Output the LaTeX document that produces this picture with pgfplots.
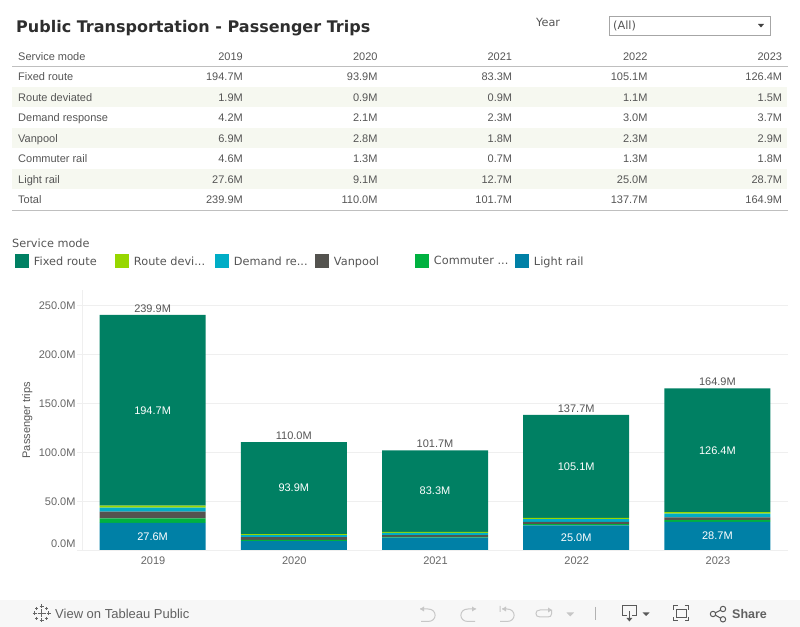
\documentclass[border=0pt]{standalone}
\usepackage{fontspec}
\usepackage{pgfplots}
\usepackage{pgfplotstable}
\pgfplotsset{compat=1.18}
\setmainfont{Liberation Sans}
\newfontfamily\dejavu{DejaVu Sans}
\definecolor{cFixed}{HTML}{008063}
\definecolor{cRoute}{HTML}{97D700}
\definecolor{cDemand}{HTML}{00ADC6}
\definecolor{cVan}{HTML}{54534F}
\definecolor{cComm}{HTML}{00B140}
\definecolor{cLight}{HTML}{0080A6}
\definecolor{txt}{HTML}{555555}
\definecolor{axgray}{HTML}{EFEFEF}
\definecolor{band}{HTML}{F6F8F0}
\definecolor{foot}{HTML}{F7F7F7}
\newcommand{\fs}[1]{\fontsize{#1bp}{#1bp}\selectfont}

% bars, in millions
\pgfplotstableread{
x fixed route demand van comm light total
0 194.7 1.9 4.2 6.9 4.6 27.6 239.9
1 93.9 0.9 2.1 2.8 1.3 9.1 110.0
2 83.3 0.9 2.3 1.8 0.7 12.7 101.7
3 105.1 1.1 3.0 2.3 1.3 25.0 137.7
4 126.4 1.5 3.7 2.9 1.8 28.7 164.9
}\trips
% label positions: middle of the segment
\pgfplotstableread{
x y label
0 142.5 194.7M
1 63.1 93.9M
2 60.0 83.3M
3 85.1 105.1M
4 101.7 126.4M
0 13.8 27.6M
3 12.5 25.0M
4 14.4 28.7M
}\inner
\pgfplotstableread{
x y label
0 239.9 239.9M
1 110.0 110.0M
2 101.7 101.7M
3 137.7 137.7M
4 164.9 164.9M
}\tops

\begin{document}
\begin{tikzpicture}
\path[use as bounding box] (0,0) rectangle (800bp,627bp);

\begin{scope}[x=1bp,y=-1bp,shift={(0,627bp)}]
  % title + filter
  \node[anchor=west,inner sep=0,text=black!82] at (16,28.5) {\dejavu\bfseries\fs{16}Public Transportation - Passenger Trips};
  \node[anchor=base west,inner sep=0,text=txt] at (536,27) {\dejavu\fs{11.3}Year};
  \draw[black!35,line width=.8bp] (609.5,16.5) rectangle (770.5,35);
  \node[anchor=base west,inner sep=0,text=txt] at (613,30) {\dejavu\fs{11.3}(All)};
  \fill[black!75] (758,24) -- (764,24) -- (761,27.5) -- cycle;

  % table
  \foreach \yy in {87,128,169} \fill[band] (12,\yy) rectangle (787,\yy+20);
  \draw[black!25,line width=.8bp] (12,66.5) -- (788,66.5);
  \draw[black!25,line width=.8bp] (12,210.5) -- (788,210.5);
  \foreach \yy/\name/\a/\b/\c/\d/\e in {
    61/Service mode/2019/2020/2021/2022/2023,
    81/Fixed route/194.7M/93.9M/83.3M/105.1M/126.4M,
    102/Route deviated/1.9M/0.9M/0.9M/1.1M/1.5M,
    122/Demand response/4.2M/2.1M/2.3M/3.0M/3.7M,
    143/Vanpool/6.9M/2.8M/1.8M/2.3M/2.9M,
    163/Commuter rail/4.6M/1.3M/0.7M/1.3M/1.8M,
    184/Light rail/27.6M/9.1M/12.7M/25.0M/28.7M,
    204/Total/239.9M/110.0M/101.7M/137.7M/164.9M} {
    \node[anchor=base west,inner sep=0,text=txt] at (18,\yy) {\fs{11}\name};
    \node[anchor=base east,inner sep=0,text=txt] at (243,\yy) {\fs{11}\a};
    \node[anchor=base east,inner sep=0,text=txt] at (377.7,\yy) {\fs{11}\b};
    \node[anchor=base east,inner sep=0,text=txt] at (512.3,\yy) {\fs{11}\c};
    \node[anchor=base east,inner sep=0,text=txt] at (647.7,\yy) {\fs{11}\d};
    \node[anchor=base east,inner sep=0,text=txt] at (782.3,\yy) {\fs{11}\e};
  }

  % legend title
  \node[anchor=west,inner sep=0,text=txt] at (12,243) {\dejavu\fs{11.3}Service mode};

  % footer
  \fill[foot] (0,600) rectangle (800,627);
  \node[anchor=west,inner sep=0,text=black!62] at (55,614) {\fs{13}View on Tableau Public};
  \node[anchor=west,inner sep=0,text=black!62] at (732,614) {\bfseries\fs{12.5}Share};
  % tableau mark
  \begin{scope}[black!60,line width=.8bp]
    \draw (41.5,609.5) -- (41.5,617.5) (37.5,613.5) -- (45.5,613.5);
    \foreach \cx/\cy/\r in {41.5/606.5/2,41.5/620.5/2,34.5/613.5/2,48.5/613.5/2,
                            36.5/608.5/1.5,46.5/608.5/1.5,36.5/618.5/1.5,46.5/618.5/1.5}
      \draw (\cx-\r,\cy) -- (\cx+\r,\cy) (\cx,\cy-\r) -- (\cx,\cy+\r);
  \end{scope}
  % toolbar
  \begin{scope}[black!22,line width=1bp]
    \draw (420,609) -- (428,609) .. controls (437.5,609) and (437.5,621.5) .. (428,621.5) -- (421,621.5);
    \fill (420,609) -- (424,606.5) -- (424,611.5) -- cycle;
    \draw (476,609) -- (468,609) .. controls (458.5,609) and (458.5,621.5) .. (468,621.5) -- (475,621.5);
    \fill (476,609) -- (472,606.5) -- (472,611.5) -- cycle;
    \draw (500,606) -- (500,612) (502,609) -- (507,609) .. controls (516.5,609) and (516.5,621.5) .. (507,621.5) -- (500,621.5);
    \fill (502,609) -- (506,606.5) -- (506,611.5) -- cycle;
    \draw (540,610) -- (548,610) (551.5,610) -- (551.5,614) .. controls (551.5,616) and (550,617) .. (548,617)
      -- (540,617) .. controls (537,617) and (536,615.5) .. (536,613.5) .. controls (536,611.5) and (537,610) .. (540,610);
    \fill (552,610) -- (548,607.5) -- (548,612.5) -- cycle;
  \end{scope}
  \fill[black!22] (566.5,612.5) -- (574,612.5) -- (570.25,616.5) -- cycle;
  \draw[black!30,line width=1bp] (595.5,607) -- (595.5,620);
  \begin{scope}[black!65,line width=1bp]
    \draw (627,615.7) -- (622.7,615.7) -- (622.7,606) -- (636,606) -- (636,615.7) -- (632,615.7);
    \draw (629.4,611) -- (629.4,620);
    \fill (626.5,618) -- (632.3,618) -- (629.4,621.5) -- cycle;
    \draw (673.3,610) -- (673.3,606) -- (677.5,606) (684.5,606) -- (688.7,606) -- (688.7,610)
      (688.7,617) -- (688.7,621) -- (684.5,621) (677.5,621) -- (673.3,621) -- (673.3,617);
    \draw (676.7,609.3) rectangle (686,617.7);
    \draw (713,614) circle (2.7) (723,609) circle (2.7) (723,619.3) circle (2.7);
    \draw (715.4,612.8) -- (720.6,610.2) (715.4,615.2) -- (720.6,618.1);
  \end{scope}
  \fill[black!65] (642.7,612.5) -- (649.5,612.5) -- (646.1,616) -- cycle;
\end{scope}

\begin{axis}[
  name=main,
  at={(82bp,77bp)},
  anchor=south west,
  scale only axis,
  width=706bp,
  height=259.7bp,
  ybar stacked,
  bar width=106bp,
  bar shift=0pt,
  xmin=-0.5, xmax=4.5,
  ymin=0, ymax=265,
  xtick={0,1,2,3,4},
  xticklabels={2019,2020,2021,2022,2023},
  extra x ticks={-0.5,0.5,1.5,2.5,3.5,4.5},
  extra x tick labels={},
  extra x tick style={major tick length=5bp,tick style={axgray},grid=none},
  ytick={0,50,100,150,200,250},
  yticklabels={\raisebox{7bp}[\height][\depth]{0.0M},50.0M,100.0M,150.0M,200.0M,250.0M},
  ymajorgrids=true,
  grid style={axgray,line width=.8bp},
  axis line style={axgray,line width=.8bp},
  axis y line*=left,
  axis x line*=bottom,
  x axis line style={-},
  y axis line style={-},
  tick align=outside,
  major tick length=5bp,
  ytick style={axgray,line width=.8bp},
  xtick style={draw=none},
  ticklabel style={text=black!60,font=\fs{11}},
  yticklabel style={xshift=2bp,yshift=-0.5bp},
  xticklabel style={yshift=2bp,xshift=0.5bp},
  ylabel={Passenger trips},
  ylabel style={text=txt,font=\fs{11},at={(axis description cs:0,0.5)},anchor=south,xshift=0bp,yshift=46bp},
  legend columns=6,
  legend style={
    at={(-67bp,288.5bp)},anchor=west,draw=none,fill=none,
    inner sep=0pt,outer sep=0pt,
    /tikz/every even column/.append style={column sep=0pt},
    nodes={font=\dejavu\fs{11.3},text=txt,anchor=west,inner xsep=0pt,inner ysep=0pt},
  },
  legend cell align=left,
  reverse legend,
  legend image code/.code={\fill[#1] (0,-7bp) rectangle (14bp,7bp);},
]
\addplot[fill=cLight,draw=none] table[x=x,y=light] {\trips};
\addplot[fill=cComm,draw=none] table[x=x,y=comm] {\trips};
\addplot[fill=cVan,draw=none] table[x=x,y=van] {\trips};
\addplot[fill=cDemand,draw=none] table[x=x,y=demand] {\trips};
\addplot[fill=cRoute,draw=none] table[x=x,y=route] {\trips};
\addplot[fill=cFixed,draw=none] table[x=x,y=fixed] {\trips};
\legend{\makebox[86bp][l]{\hspace{5bp}Light rail},\makebox[86bp][l]{\hspace{5bp}Commuter ...},\makebox[86bp][l]{\hspace{5bp}Vanpool},\makebox[86bp][l]{\hspace{5bp}Demand re...},\makebox[86bp][l]{\hspace{5bp}Route devi...},\makebox[86bp][l]{\hspace{5bp}Fixed route}}
\end{axis}

% labels on a second axis with the same frame
\begin{axis}[
  at={(82bp,77bp)},
  anchor=south west,
  scale only axis,
  width=706bp,
  height=259.7bp,
  xmin=-0.5, xmax=4.5,
  ymin=0, ymax=265,
  hide axis,
  clip=false,
]
\addplot[only marks,mark=none,nodes near coords,point meta=explicit symbolic,
  nodes near coords style={anchor=center,text=white,font=\fs{11},inner sep=0pt}]
  table[x=x,y=y,meta=label] {\inner};
\addplot[only marks,mark=none,nodes near coords,point meta=explicit symbolic,
  nodes near coords style={anchor=south,text=txt,font=\fs{11},inner sep=0pt,yshift=2.5bp}]
  table[x=x,y=y,meta=label] {\tops};
\end{axis}
\end{tikzpicture}
\end{document}
